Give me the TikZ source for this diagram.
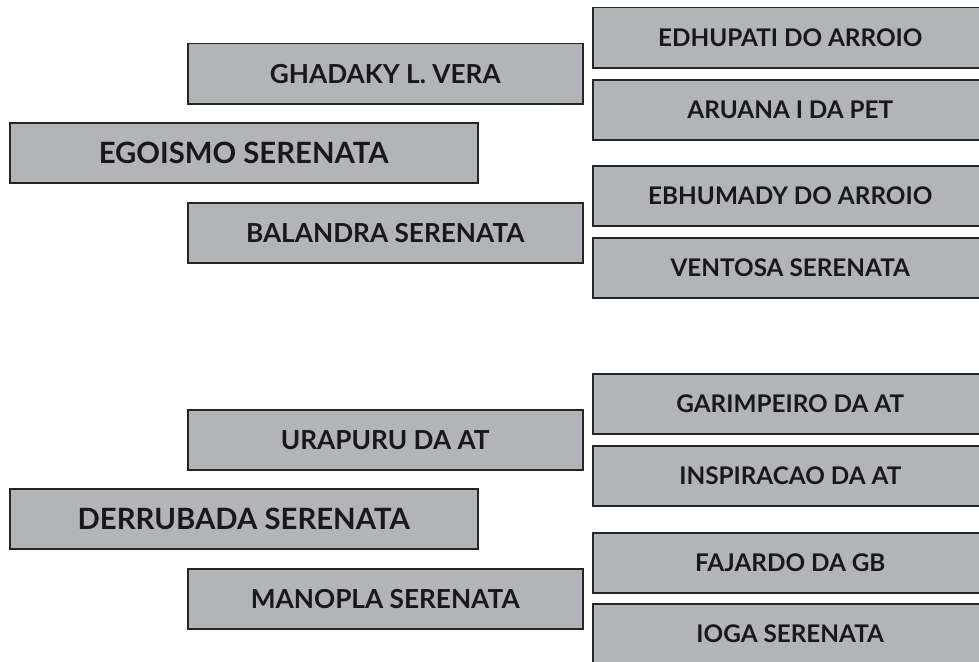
\documentclass[tikz,border=0pt]{standalone}
\usepackage{fontspec}
\setmainfont{Lato}
\definecolor{boxgray}{RGB}{179,180,183}
\definecolor{boxline}{RGB}{38,38,40}

\begin{document}
\begin{tikzpicture}[x=1pt, y=-1pt,
  box/.style = {draw=boxline, line width=1.5pt, fill=boxgray, text=black!90, anchor=north west, minimum height=60pt, inner sep=0pt},
  rootbox/.style = {box, minimum width=468pt, font=\bfseries\fontsize{29.3}{29.3}\selectfont},
  midbox/.style = {box, minimum width=395pt, font=\bfseries\fontsize{26.2}{26.2}\selectfont},
  leafbox/.style = {box, minimum width=395pt, font=\bfseries\fontsize{24.3}{24.3}\selectfont}]
  \useasboundingbox (0,0) rectangle (979,661);
  % upper family
  \node[rootbox] (egoismo) at (9,122) {EGOISMO SERENATA};
  \node[midbox] (ghadaky) at (187,43) {GHADAKY L. VERA};
  \node[midbox] (balandra) at (187,202) {BALANDRA SERENATA};
  \node[leafbox] (edhupati) at (592,7) {EDHUPATI DO ARROIO};
  \node[leafbox] (aruana) at (592,79) {ARUANA I DA PET};
  \node[leafbox] (ebhumady) at (592,165) {EBHUMADY DO ARROIO};
  \node[leafbox] (ventosa) at (592,237) {VENTOSA SERENATA};
  % lower family
  \node[rootbox] (derrubada) at (9,488) {DERRUBADA SERENATA};
  \node[midbox] (urapuru) at (187,409) {URAPURU DA AT};
  \node[midbox] (manopla) at (187,568) {MANOPLA SERENATA};
  \node[leafbox] (garimpeiro) at (592,373) {GARIMPEIRO DA AT};
  \node[leafbox] (inspiracao) at (592,445) {INSPIRACAO DA AT};
  \node[leafbox] (fajardo) at (592,532) {FAJARDO DA GB};
  \node[leafbox] (ioga) at (592,603) {IOGA SERENATA};
\end{tikzpicture}
\end{document}
